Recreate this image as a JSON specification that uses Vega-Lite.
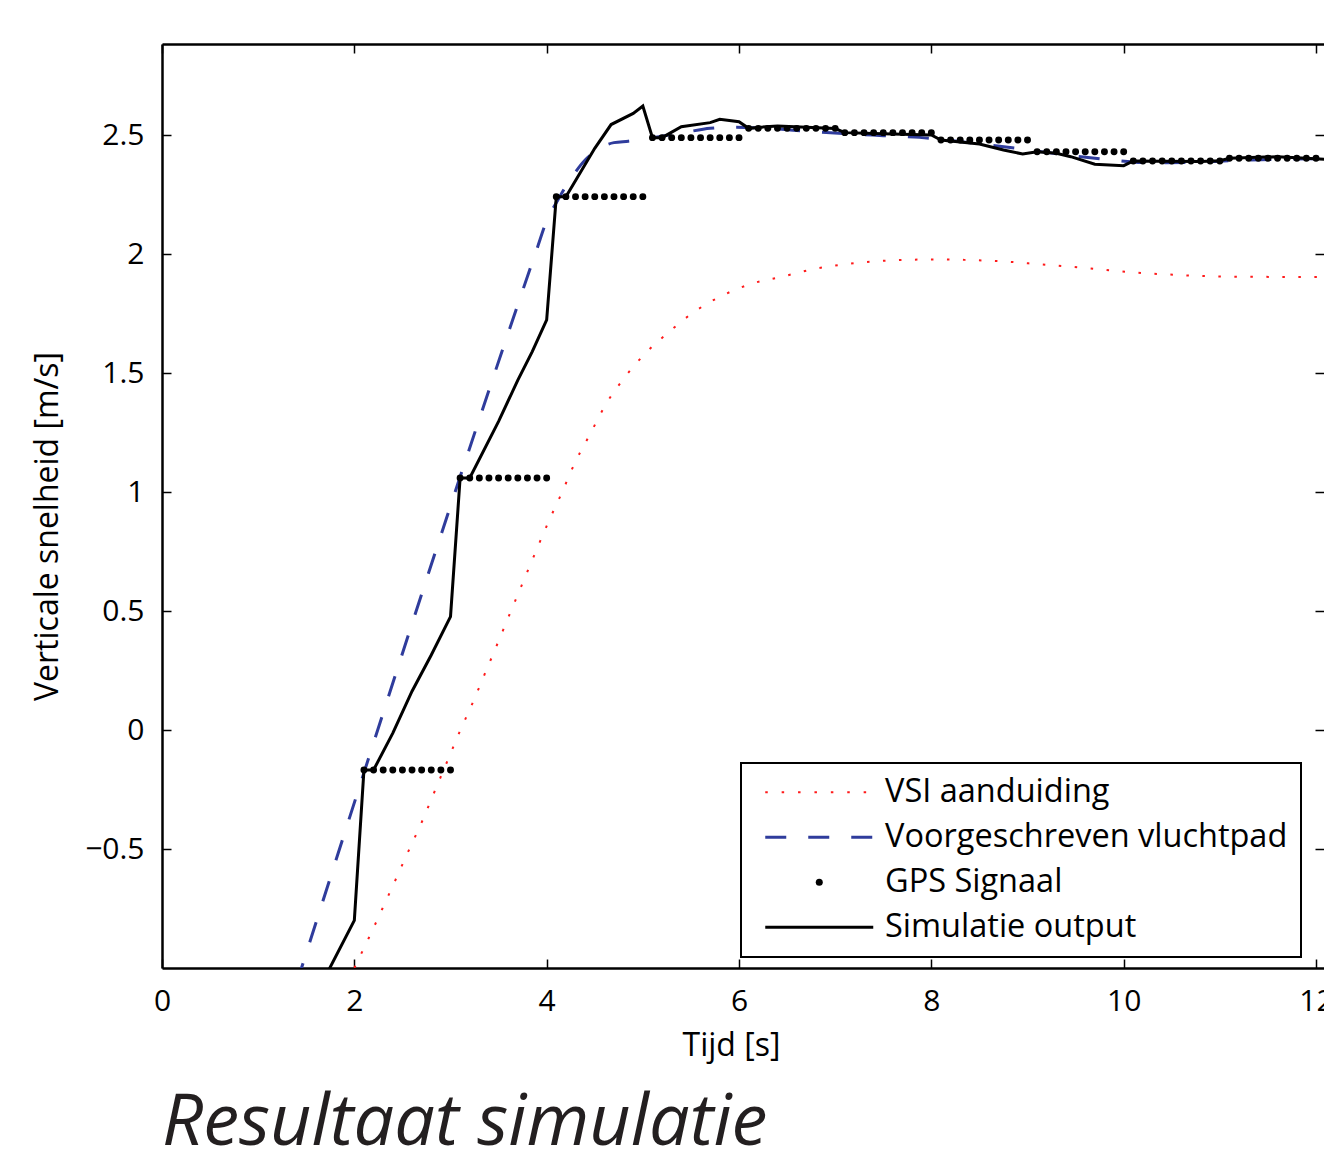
{
  "$schema": "https://vega.github.io/schema/vega-lite/v6.json",
  "width": 1162,
  "height": 924,
  "autosize": {"type": "none"},
  "padding": {"left": 162, "top": 44, "right": 0, "bottom": 184},
  "background": "white",
  "title": {"text": "Resultaat simulatie", "orient": "bottom", "anchor": "start", "frame": "group", "font": "Open Sans", "fontSize": 72, "fontStyle": "italic", "fontWeight": "normal", "color": "#231f20", "offset": 27, "baseline": "top"},
  "config": {
    "font": "Open Sans",
    "view": {"stroke": null},
    "axis": {"grid": false, "domainColor": "#000", "domainWidth": 2.5, "tickColor": "#000", "tickWidth": 1.5, "tickSize": -9, "labelColor": "#000", "labelFont": "Open Sans", "labelFontSize": 30, "titleColor": "#000", "titleFont": "Open Sans", "titleFontSize": 32, "titleFontWeight": "normal", "labelFlush": false, "labelOverlap": false}
  },
  "datasets": {
    "vsi": [
      {"s": "VSI aanduiding", "t": 2.0, "v": -1.0},
      {"s": "VSI aanduiding", "t": 2.15, "v": -0.874},
      {"s": "VSI aanduiding", "t": 2.29, "v": -0.752},
      {"s": "VSI aanduiding", "t": 2.43, "v": -0.628},
      {"s": "VSI aanduiding", "t": 2.57, "v": -0.502},
      {"s": "VSI aanduiding", "t": 2.71, "v": -0.379},
      {"s": "VSI aanduiding", "t": 2.84, "v": -0.253},
      {"s": "VSI aanduiding", "t": 2.97, "v": -0.128},
      {"s": "VSI aanduiding", "t": 3.1, "v": -0.003},
      {"s": "VSI aanduiding", "t": 3.24, "v": 0.123},
      {"s": "VSI aanduiding", "t": 3.37, "v": 0.249},
      {"s": "VSI aanduiding", "t": 3.5, "v": 0.374},
      {"s": "VSI aanduiding", "t": 3.63, "v": 0.501},
      {"s": "VSI aanduiding", "t": 3.76, "v": 0.627},
      {"s": "VSI aanduiding", "t": 3.89, "v": 0.753},
      {"s": "VSI aanduiding", "t": 4.02, "v": 0.876},
      {"s": "VSI aanduiding", "t": 4.16, "v": 0.999},
      {"s": "VSI aanduiding", "t": 4.29, "v": 1.12},
      {"s": "VSI aanduiding", "t": 4.45, "v": 1.242},
      {"s": "VSI aanduiding", "t": 4.61, "v": 1.365},
      {"s": "VSI aanduiding", "t": 4.8, "v": 1.476},
      {"s": "VSI aanduiding", "t": 5.02, "v": 1.58},
      {"s": "VSI aanduiding", "t": 5.27, "v": 1.672},
      {"s": "VSI aanduiding", "t": 5.53, "v": 1.756},
      {"s": "VSI aanduiding", "t": 5.82, "v": 1.824},
      {"s": "VSI aanduiding", "t": 6.13, "v": 1.875},
      {"s": "VSI aanduiding", "t": 6.45, "v": 1.905},
      {"s": "VSI aanduiding", "t": 6.78, "v": 1.937},
      {"s": "VSI aanduiding", "t": 7.1, "v": 1.957},
      {"s": "VSI aanduiding", "t": 7.44, "v": 1.97},
      {"s": "VSI aanduiding", "t": 7.77, "v": 1.976},
      {"s": "VSI aanduiding", "t": 8.11, "v": 1.977},
      {"s": "VSI aanduiding", "t": 8.45, "v": 1.974},
      {"s": "VSI aanduiding", "t": 8.78, "v": 1.968},
      {"s": "VSI aanduiding", "t": 9.12, "v": 1.957},
      {"s": "VSI aanduiding", "t": 9.46, "v": 1.946},
      {"s": "VSI aanduiding", "t": 9.79, "v": 1.934},
      {"s": "VSI aanduiding", "t": 10.12, "v": 1.922},
      {"s": "VSI aanduiding", "t": 10.46, "v": 1.914},
      {"s": "VSI aanduiding", "t": 10.79, "v": 1.908},
      {"s": "VSI aanduiding", "t": 11.12, "v": 1.905},
      {"s": "VSI aanduiding", "t": 11.46, "v": 1.904},
      {"s": "VSI aanduiding", "t": 11.8, "v": 1.903},
      {"s": "VSI aanduiding", "t": 12.1, "v": 1.903}
    ],
    "plan": [
      {"s": "Voorgeschreven vluchtpad", "t": 1.4, "v": -1.064},
      {"s": "Voorgeschreven vluchtpad", "t": 3.9, "v": 2.023},
      {"s": "Voorgeschreven vluchtpad", "t": 4.0, "v": 2.14},
      {"s": "Voorgeschreven vluchtpad", "t": 4.1, "v": 2.215},
      {"s": "Voorgeschreven vluchtpad", "t": 4.2, "v": 2.285},
      {"s": "Voorgeschreven vluchtpad", "t": 4.3, "v": 2.345},
      {"s": "Voorgeschreven vluchtpad", "t": 4.4, "v": 2.395},
      {"s": "Voorgeschreven vluchtpad", "t": 4.5, "v": 2.43},
      {"s": "Voorgeschreven vluchtpad", "t": 4.6, "v": 2.455},
      {"s": "Voorgeschreven vluchtpad", "t": 4.7, "v": 2.468},
      {"s": "Voorgeschreven vluchtpad", "t": 4.85, "v": 2.474},
      {"s": "Voorgeschreven vluchtpad", "t": 5.0, "v": 2.482},
      {"s": "Voorgeschreven vluchtpad", "t": 5.2, "v": 2.495},
      {"s": "Voorgeschreven vluchtpad", "t": 5.45, "v": 2.512},
      {"s": "Voorgeschreven vluchtpad", "t": 5.7, "v": 2.528},
      {"s": "Voorgeschreven vluchtpad", "t": 5.95, "v": 2.533},
      {"s": "Voorgeschreven vluchtpad", "t": 6.3, "v": 2.528},
      {"s": "Voorgeschreven vluchtpad", "t": 6.74, "v": 2.515},
      {"s": "Voorgeschreven vluchtpad", "t": 7.5, "v": 2.497},
      {"s": "Voorgeschreven vluchtpad", "t": 8.0, "v": 2.486},
      {"s": "Voorgeschreven vluchtpad", "t": 8.45, "v": 2.465},
      {"s": "Voorgeschreven vluchtpad", "t": 9.0, "v": 2.438},
      {"s": "Voorgeschreven vluchtpad", "t": 9.4, "v": 2.416},
      {"s": "Voorgeschreven vluchtpad", "t": 9.83, "v": 2.397},
      {"s": "Voorgeschreven vluchtpad", "t": 10.3, "v": 2.383},
      {"s": "Voorgeschreven vluchtpad", "t": 10.7, "v": 2.385},
      {"s": "Voorgeschreven vluchtpad", "t": 11.13, "v": 2.392},
      {"s": "Voorgeschreven vluchtpad", "t": 11.6, "v": 2.398},
      {"s": "Voorgeschreven vluchtpad", "t": 12.1, "v": 2.4}
    ],
    "sim": [
      {"s": "Simulatie output", "t": 1.7, "v": -1.035},
      {"s": "Simulatie output", "t": 2.0, "v": -0.8},
      {"s": "Simulatie output", "t": 2.1, "v": -0.168},
      {"s": "Simulatie output", "t": 2.2, "v": -0.168},
      {"s": "Simulatie output", "t": 2.4, "v": -0.013},
      {"s": "Simulatie output", "t": 2.6, "v": 0.163},
      {"s": "Simulatie output", "t": 2.8, "v": 0.315},
      {"s": "Simulatie output", "t": 3.0, "v": 0.476},
      {"s": "Simulatie output", "t": 3.1, "v": 1.059},
      {"s": "Simulatie output", "t": 3.2, "v": 1.059},
      {"s": "Simulatie output", "t": 3.5, "v": 1.297},
      {"s": "Simulatie output", "t": 3.7, "v": 1.47},
      {"s": "Simulatie output", "t": 3.85, "v": 1.59},
      {"s": "Simulatie output", "t": 4.0, "v": 1.723},
      {"s": "Simulatie output", "t": 4.1, "v": 2.241},
      {"s": "Simulatie output", "t": 4.2, "v": 2.241},
      {"s": "Simulatie output", "t": 4.5, "v": 2.444},
      {"s": "Simulatie output", "t": 4.67, "v": 2.544},
      {"s": "Simulatie output", "t": 4.9, "v": 2.591},
      {"s": "Simulatie output", "t": 5.0, "v": 2.622},
      {"s": "Simulatie output", "t": 5.1, "v": 2.489},
      {"s": "Simulatie output", "t": 5.2, "v": 2.489},
      {"s": "Simulatie output", "t": 5.4, "v": 2.535},
      {"s": "Simulatie output", "t": 5.7, "v": 2.552},
      {"s": "Simulatie output", "t": 5.8, "v": 2.566},
      {"s": "Simulatie output", "t": 6.0, "v": 2.556},
      {"s": "Simulatie output", "t": 6.1, "v": 2.528},
      {"s": "Simulatie output", "t": 6.2, "v": 2.532},
      {"s": "Simulatie output", "t": 6.4, "v": 2.538},
      {"s": "Simulatie output", "t": 7.0, "v": 2.527},
      {"s": "Simulatie output", "t": 7.1, "v": 2.51},
      {"s": "Simulatie output", "t": 7.5, "v": 2.505},
      {"s": "Simulatie output", "t": 8.0, "v": 2.5},
      {"s": "Simulatie output", "t": 8.1, "v": 2.479},
      {"s": "Simulatie output", "t": 8.5, "v": 2.462},
      {"s": "Simulatie output", "t": 8.75, "v": 2.437},
      {"s": "Simulatie output", "t": 8.95, "v": 2.42},
      {"s": "Simulatie output", "t": 9.1, "v": 2.43},
      {"s": "Simulatie output", "t": 9.3, "v": 2.423},
      {"s": "Simulatie output", "t": 9.45, "v": 2.409},
      {"s": "Simulatie output", "t": 9.7, "v": 2.377},
      {"s": "Simulatie output", "t": 10.0, "v": 2.371},
      {"s": "Simulatie output", "t": 10.1, "v": 2.391},
      {"s": "Simulatie output", "t": 10.4, "v": 2.39},
      {"s": "Simulatie output", "t": 10.8, "v": 2.389},
      {"s": "Simulatie output", "t": 11.0, "v": 2.392},
      {"s": "Simulatie output", "t": 11.1, "v": 2.402},
      {"s": "Simulatie output", "t": 11.6, "v": 2.409},
      {"s": "Simulatie output", "t": 11.85, "v": 2.403},
      {"s": "Simulatie output", "t": 12.1, "v": 2.398}
    ],
    "gps": [
      {"s": "GPS Signaal", "t": 2.1, "v": -0.168}, {"s": "GPS Signaal", "t": 2.2, "v": -0.168}, {"s": "GPS Signaal", "t": 2.3, "v": -0.168}, {"s": "GPS Signaal", "t": 2.4, "v": -0.168}, {"s": "GPS Signaal", "t": 2.5, "v": -0.168},
      {"s": "GPS Signaal", "t": 2.6, "v": -0.168}, {"s": "GPS Signaal", "t": 2.7, "v": -0.168}, {"s": "GPS Signaal", "t": 2.8, "v": -0.168}, {"s": "GPS Signaal", "t": 2.9, "v": -0.168}, {"s": "GPS Signaal", "t": 3.0, "v": -0.168},
      {"s": "GPS Signaal", "t": 3.1, "v": 1.059}, {"s": "GPS Signaal", "t": 3.2, "v": 1.059}, {"s": "GPS Signaal", "t": 3.3, "v": 1.059}, {"s": "GPS Signaal", "t": 3.4, "v": 1.059}, {"s": "GPS Signaal", "t": 3.5, "v": 1.059},
      {"s": "GPS Signaal", "t": 3.6, "v": 1.059}, {"s": "GPS Signaal", "t": 3.7, "v": 1.059}, {"s": "GPS Signaal", "t": 3.8, "v": 1.059}, {"s": "GPS Signaal", "t": 3.9, "v": 1.059}, {"s": "GPS Signaal", "t": 4.0, "v": 1.059},
      {"s": "GPS Signaal", "t": 4.1, "v": 2.241}, {"s": "GPS Signaal", "t": 4.2, "v": 2.241}, {"s": "GPS Signaal", "t": 4.3, "v": 2.241}, {"s": "GPS Signaal", "t": 4.4, "v": 2.241}, {"s": "GPS Signaal", "t": 4.5, "v": 2.241},
      {"s": "GPS Signaal", "t": 4.6, "v": 2.241}, {"s": "GPS Signaal", "t": 4.7, "v": 2.241}, {"s": "GPS Signaal", "t": 4.8, "v": 2.241}, {"s": "GPS Signaal", "t": 4.9, "v": 2.241}, {"s": "GPS Signaal", "t": 5.0, "v": 2.241},
      {"s": "GPS Signaal", "t": 5.1, "v": 2.489}, {"s": "GPS Signaal", "t": 5.2, "v": 2.489}, {"s": "GPS Signaal", "t": 5.3, "v": 2.489}, {"s": "GPS Signaal", "t": 5.4, "v": 2.489}, {"s": "GPS Signaal", "t": 5.5, "v": 2.489},
      {"s": "GPS Signaal", "t": 5.6, "v": 2.489}, {"s": "GPS Signaal", "t": 5.7, "v": 2.489}, {"s": "GPS Signaal", "t": 5.8, "v": 2.489}, {"s": "GPS Signaal", "t": 5.9, "v": 2.489}, {"s": "GPS Signaal", "t": 6.0, "v": 2.489},
      {"s": "GPS Signaal", "t": 6.1, "v": 2.528}, {"s": "GPS Signaal", "t": 6.2, "v": 2.528}, {"s": "GPS Signaal", "t": 6.3, "v": 2.528}, {"s": "GPS Signaal", "t": 6.4, "v": 2.528}, {"s": "GPS Signaal", "t": 6.5, "v": 2.528},
      {"s": "GPS Signaal", "t": 6.6, "v": 2.528}, {"s": "GPS Signaal", "t": 6.7, "v": 2.528}, {"s": "GPS Signaal", "t": 6.8, "v": 2.528}, {"s": "GPS Signaal", "t": 6.9, "v": 2.528}, {"s": "GPS Signaal", "t": 7.0, "v": 2.528},
      {"s": "GPS Signaal", "t": 7.1, "v": 2.51}, {"s": "GPS Signaal", "t": 7.2, "v": 2.51}, {"s": "GPS Signaal", "t": 7.3, "v": 2.51}, {"s": "GPS Signaal", "t": 7.4, "v": 2.51}, {"s": "GPS Signaal", "t": 7.5, "v": 2.51},
      {"s": "GPS Signaal", "t": 7.6, "v": 2.51}, {"s": "GPS Signaal", "t": 7.7, "v": 2.51}, {"s": "GPS Signaal", "t": 7.8, "v": 2.51}, {"s": "GPS Signaal", "t": 7.9, "v": 2.51}, {"s": "GPS Signaal", "t": 8.0, "v": 2.51},
      {"s": "GPS Signaal", "t": 8.1, "v": 2.479}, {"s": "GPS Signaal", "t": 8.2, "v": 2.479}, {"s": "GPS Signaal", "t": 8.3, "v": 2.479}, {"s": "GPS Signaal", "t": 8.4, "v": 2.479}, {"s": "GPS Signaal", "t": 8.5, "v": 2.479},
      {"s": "GPS Signaal", "t": 8.6, "v": 2.479}, {"s": "GPS Signaal", "t": 8.7, "v": 2.479}, {"s": "GPS Signaal", "t": 8.8, "v": 2.479}, {"s": "GPS Signaal", "t": 8.9, "v": 2.479}, {"s": "GPS Signaal", "t": 9.0, "v": 2.479},
      {"s": "GPS Signaal", "t": 9.1, "v": 2.43}, {"s": "GPS Signaal", "t": 9.2, "v": 2.43}, {"s": "GPS Signaal", "t": 9.3, "v": 2.43}, {"s": "GPS Signaal", "t": 9.4, "v": 2.43}, {"s": "GPS Signaal", "t": 9.5, "v": 2.43},
      {"s": "GPS Signaal", "t": 9.6, "v": 2.43}, {"s": "GPS Signaal", "t": 9.7, "v": 2.43}, {"s": "GPS Signaal", "t": 9.8, "v": 2.43}, {"s": "GPS Signaal", "t": 9.9, "v": 2.43}, {"s": "GPS Signaal", "t": 10.0, "v": 2.43},
      {"s": "GPS Signaal", "t": 10.1, "v": 2.391}, {"s": "GPS Signaal", "t": 10.2, "v": 2.391}, {"s": "GPS Signaal", "t": 10.3, "v": 2.391}, {"s": "GPS Signaal", "t": 10.4, "v": 2.391}, {"s": "GPS Signaal", "t": 10.5, "v": 2.391},
      {"s": "GPS Signaal", "t": 10.6, "v": 2.391}, {"s": "GPS Signaal", "t": 10.7, "v": 2.391}, {"s": "GPS Signaal", "t": 10.8, "v": 2.391}, {"s": "GPS Signaal", "t": 10.9, "v": 2.391}, {"s": "GPS Signaal", "t": 11.0, "v": 2.391},
      {"s": "GPS Signaal", "t": 11.1, "v": 2.402}, {"s": "GPS Signaal", "t": 11.2, "v": 2.402}, {"s": "GPS Signaal", "t": 11.3, "v": 2.402}, {"s": "GPS Signaal", "t": 11.4, "v": 2.402}, {"s": "GPS Signaal", "t": 11.5, "v": 2.402},
      {"s": "GPS Signaal", "t": 11.6, "v": 2.402}, {"s": "GPS Signaal", "t": 11.7, "v": 2.402}, {"s": "GPS Signaal", "t": 11.8, "v": 2.402}, {"s": "GPS Signaal", "t": 11.9, "v": 2.402}, {"s": "GPS Signaal", "t": 12.0, "v": 2.402}
    ]
  },
  "layer": [
    {
      "data": {"name": "vsi"},
      "mark": {"type": "line", "clip": true, "strokeDash": [2.5, 13.5], "strokeWidth": 2, "interpolate": "monotone"},
      "encoding": {
        "x": {"field": "t", "type": "quantitative", "scale": {"domain": [0, 12.083], "nice": false, "zero": false},
          "axis": {"orient": "bottom", "values": [0, 2, 4, 6, 8, 10, 12], "title": "Tijd [s]", "labelPadding": 27, "titleX": 569, "titleY": 87, "titleBaseline": "alphabetic"}},
        "y": {"field": "v", "type": "quantitative", "scale": {"domain": [-1, 2.8824], "nice": false, "zero": false},
          "axis": {"orient": "left", "values": [-0.5, 0, 0.5, 1, 1.5, 2, 2.5], "format": "~g", "title": "Verticale snelheid [m/s]", "labelPadding": 27, "titleX": -105, "titleY": 482, "titleBaseline": "alphabetic"}},
        "color": {"field": "s", "type": "nominal",
          "scale": {"domain": ["VSI aanduiding", "Voorgeschreven vluchtpad", "GPS Signaal", "Simulatie output"], "range": ["#ff1a1a", "#2f3c9c", "#000000", "#000000"]},
          "legend": {"orient": "none", "legendX": 579, "legendY": 719, "title": null, "columns": 1, "symbolType": "M-1,0H8", "symbolSize": 576, "symbolStrokeWidth": 3, "rowPadding": 12, "padding": 13, "symbolOffset": 7, "labelOffset": 91.5, "labelFont": "Open Sans", "labelFontSize": 32.5, "labelColor": "#000", "labelLimit": 1000, "fillColor": "white", "strokeColor": "black",
            "encode": {
              "legend": {"update": {"strokeWidth": {"value": 2}}},
              "symbols": {"update": {
                "strokeDash": {"signal": "datum.value === 'VSI aanduiding' ? [2.5, 13.9] : datum.value === 'Voorgeschreven vluchtpad' ? [21, 22] : datum.value === 'GPS Signaal' ? [0.01, 400] : [300, 0]"},
                "strokeDashOffset": {"signal": "datum.value === 'GPS Signaal' ? 346 : 0"},
                "strokeCap": {"signal": "datum.value === 'GPS Signaal' ? 'round' : 'butt'"},
                "strokeWidth": {"signal": "datum.value === 'GPS Signaal' ? 7 : datum.value === 'VSI aanduiding' ? 2 : 3"},
                "fill": {"value": "transparent"},
                "opacity": {"value": 1}
              }}
            }}}
      }
    },
    {
      "data": {"name": "plan"},
      "mark": {"type": "line", "clip": true, "strokeDash": [21, 22], "strokeWidth": 3, "interpolate": "monotone"},
      "encoding": {
        "x": {"field": "t", "type": "quantitative", "axis": {"orient": "top", "values": [0, 2, 4, 6, 8, 10, 12], "labels": false, "title": null, "domain": true}},
        "y": {"field": "v", "type": "quantitative", "axis": {"orient": "right", "values": [-0.5, 0, 0.5, 1, 1.5, 2, 2.5], "labels": false, "title": null, "domain": false}},
        "color": {"field": "s", "type": "nominal", "legend": null}
      }
    },
    {
      "data": {"name": "sim"},
      "mark": {"type": "line", "clip": true, "strokeWidth": 3},
      "encoding": {
        "x": {"field": "t", "type": "quantitative", "axis": null},
        "y": {"field": "v", "type": "quantitative", "axis": null},
        "color": {"field": "s", "type": "nominal", "legend": null}
      }
    },
    {
      "data": {"name": "gps"},
      "mark": {"type": "point", "filled": true, "opacity": 1, "size": 48, "clip": true},
      "encoding": {
        "x": {"field": "t", "type": "quantitative", "axis": null},
        "y": {"field": "v", "type": "quantitative", "axis": null},
        "color": {"field": "s", "type": "nominal", "legend": null}
      }
    }
  ],
  "resolve": {"axis": {"x": "independent", "y": "independent"}}
}
